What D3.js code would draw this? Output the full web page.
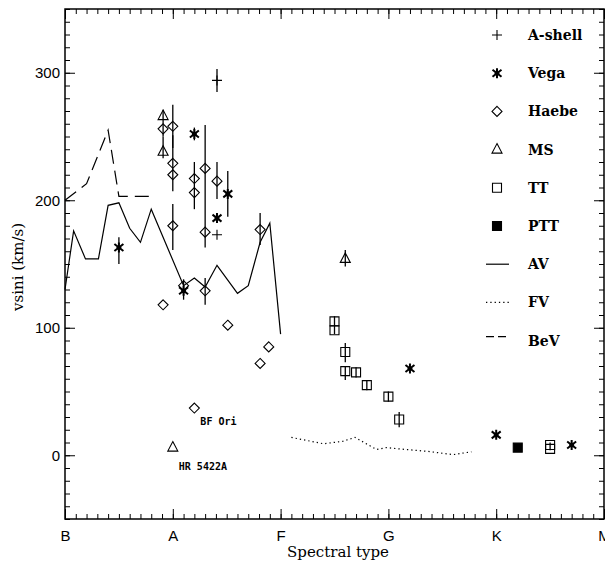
<!DOCTYPE html>
<html>
<head>
<meta charset="utf-8">
<script src="https://cdn.jsdelivr.net/npm/d3@7"></script>
<style>
    body { margin: 0; background: #fff; }
    .tick text { font-family: "Liberation Sans", Arial, sans-serif; font-size: 15px; }
    .legend text { font-family: "DejaVu Serif", serif; font-weight: bold; font-size: 14px; }
    .axisTitle { font-family: "DejaVu Serif", serif; font-size: 15px; }
    .note { font-family: "DejaVu Sans Mono", monospace; font-weight: bold; font-size: 10px; }
</style>
</head>
<body>
<script>
// spectral type: B=0, A=1, F=2, G=3, K=4, M=5
var typeTicks = [0, 1, 2, 3, 4, 5];
var typeLabels = ["B", "A", "F", "G", "K", "M"];
var vTicks = [0, 100, 200, 300];

// points as [spectral type, vsini, error low, error high]
var aShell = [
    [1.41, 294, 285, 303],
    [1.41, 173]
];
var vega = [
    [0.50, 163, 150, 171],
    [1.10, 129, 122, 138],
    [1.20, 252, 247, 257],
    [1.41, 186],
    [1.51, 205, 187, 223],
    [3.20, 68],
    [4.00, 16],
    [4.70, 8]
];
var haebe = [
    [0.91, 256],
    [0.91, 118],
    [1.00, 258, 241, 275],
    [1.00, 229, 207, 251],
    [1.00, 220],
    [1.00, 180, 161, 197],
    [1.10, 133],
    [1.20, 217, 193, 230],
    [1.20, 206],
    [1.20, 37],
    [1.30, 225, 163, 259],
    [1.30, 175],
    [1.30, 129, 118, 139],
    [1.41, 215, 201, 230],
    [1.51, 102],
    [1.81, 177, 165, 190],
    [1.81, 72],
    [1.89, 85]
];
var ms = [
    [0.91, 266, 250, 271],
    [0.91, 238, 233, 250],
    [1.00, 6],
    [2.60, 154, 148, 161]
];
var tt = [
    [2.50, 105, 95, 109],
    [2.50, 98],
    [2.60, 81, 73, 88],
    [2.60, 66, 59, 70],
    [2.70, 65, 61, 69],
    [2.80, 55, 51, 59],
    [3.00, 46, 42, 50],
    [3.10, 28, 22, 34],
    [4.50, 8, 4, 10],
    [4.50, 5]
];
var ptt = [
    [4.20, 6]
];

// mean curves
var av = [[0, 130], [0.08, 176], [0.19, 154], [0.31, 154], [0.40, 196], [0.50, 198],
    [0.60, 178], [0.70, 167], [0.80, 193], [1.10, 133], [1.20, 139], [1.30, 132],
    [1.41, 149], [1.60, 127], [1.70, 133], [1.81, 167], [1.90, 182], [2.00, 95]];
var fv = [[2.10, 14], [2.40, 9], [2.58, 11], [2.69, 14], [2.89, 4.5], [2.98, 6],
    [3.10, 5], [3.37, 3], [3.60, 0.5], [3.77, 2.7]];
var bev = [[0, 200], [0.20, 213], [0.40, 255], [0.50, 203], [0.82, 203]];

var legendNames = ["A-shell", "Vega", "Haebe", "MS", "TT", "PTT", "AV", "FV", "BeV"];

window.onload = function() {
    var w = 605, h = 563;
    var left = 65, right = 604, top = 9, bottom = 519;

    var svg = d3.select("body")
        .append("svg")
        .attr("width", w)
        .attr("height", h);

    var x = d3.scaleLinear().domain([0, 5]).range([left, right]);
    var y = d3.scaleLinear().domain([-50, 350]).range([bottom, top]);

    var minorX = d3.range(0, 50).map(function(i) { return i / 10; });
    var minorY = d3.range(-50, 351, 10);

    // ticks on all four sides, pointing inward
    function addAxis(gen, tx, ty) {
        var g = svg.append("g")
            .attr("transform", "translate(" + tx + "," + ty + ")")
            .call(gen);
        g.select(".domain").remove();
        g.selectAll("line").attr("stroke", "#000");
        return g;
    }
    addAxis(d3.axisBottom(x).tickValues(minorX).tickSize(-5).tickFormat(""), 0, bottom);
    addAxis(d3.axisBottom(x).tickValues(typeTicks).tickSize(-10).tickPadding(11)
        .tickFormat(function(d, i) { return typeLabels[i]; }), 0, bottom);
    addAxis(d3.axisTop(x).tickValues(minorX).tickSize(-5).tickFormat(""), 0, top);
    addAxis(d3.axisTop(x).tickValues(typeTicks).tickSize(-10).tickFormat(""), 0, top);
    addAxis(d3.axisLeft(y).tickValues(minorY).tickSize(-5).tickFormat(""), left, 0);
    addAxis(d3.axisLeft(y).tickValues(vTicks).tickSize(-10).tickPadding(5), left, 0);
    addAxis(d3.axisRight(y).tickValues(minorY).tickSize(-5).tickFormat(""), right, 0);
    addAxis(d3.axisRight(y).tickValues(vTicks).tickSize(-10).tickFormat(""), right, 0);

    svg.selectAll(".tick text").attr("fill", "#000");

    // frame
    svg.append("rect")
        .attr("x", left).attr("y", top)
        .attr("width", right - left).attr("height", bottom - top)
        .attr("fill", "none").attr("stroke", "#000").attr("stroke-width", 1.5);

    svg.append("text")
        .attr("class", "axisTitle")
        .attr("x", 338).attr("y", 557)
        .attr("text-anchor", "middle")
        .text("Spectral type");
    svg.append("text")
        .attr("class", "axisTitle")
        .attr("transform", "translate(23,267) rotate(-90)")
        .attr("text-anchor", "middle")
        .text("vsini (km/s)");

    // curves
    var line = d3.line()
        .x(function(d) { return x(d[0]); })
        .y(function(d) { return y(d[1]); });
    var curveStyle = [
        { data: av, dash: null },
        { data: fv, dash: "1.3,3" },
        { data: bev, dash: "14,7" }
    ];
    curveStyle.forEach(function(c) {
        svg.append("path")
            .datum(c.data)
            .attr("d", line)
            .attr("fill", "none")
            .attr("stroke", "#000")
            .attr("stroke-width", 1.2)
            .attr("stroke-dasharray", c.dash);
    });

    // marker shapes around (0,0)
    function marker(type) {
        var s = 5;
        if (type == "plus") return "M" + (-s) + ",0H" + s + "M0," + (-s) + "V" + s;
        if (type == "star") return "M0," + (-s) + "V" + s +
            "M-4.5,-3.5L4.5,3.5M-4.5,3.5L4.5,-3.5M-2.5,0H2.5";
        if (type == "diamond") return "M0,-5L5,0L0,5L-5,0Z";
        if (type == "triangle") return "M0,-6L5,3.5L-5,3.5Z";
        return "M-4.5,-4.5H4.5V4.5H-4.5Z"; // square
    }

    var series = [
        { data: aShell, type: "plus", fill: "none" },
        { data: vega, type: "star", fill: "none", width: 2 },
        { data: haebe, type: "diamond", fill: "none" },
        { data: ms, type: "triangle", fill: "none" },
        { data: tt, type: "square", fill: "none" },
        { data: ptt, type: "square", fill: "#000" }
    ];

    // error bars first
    series.forEach(function(s) {
        svg.selectAll(null)
            .data(s.data.filter(function(d) { return d.length > 2; }))
            .enter()
            .append("line")
            .attr("x1", function(d) { return x(d[0]); })
            .attr("x2", function(d) { return x(d[0]); })
            .attr("y1", function(d) { return y(d[2]); })
            .attr("y2", function(d) { return y(d[3]); })
            .attr("stroke", "#000")
            .attr("stroke-width", 1.3);
    });

    series.forEach(function(s) {
        svg.selectAll(null)
            .data(s.data)
            .enter()
            .append("path")
            .attr("d", marker(s.type))
            .attr("transform", function(d) {
                return "translate(" + x(d[0]) + "," + y(d[1]) + ")";
            })
            .attr("fill", s.fill)
            .attr("stroke", "#000")
            .attr("stroke-width", s.width || 1.1);
    });

    // star names
    svg.append("text").attr("class", "note")
        .attr("x", x(1.20) + 6).attr("y", y(37) + 17)
        .text("BF Ori");
    svg.append("text").attr("class", "note")
        .attr("x", x(1.00) + 6).attr("y", y(6) + 22)
        .text("HR 5422A");

    // legend
    var legend = svg.append("g").attr("class", "legend");
    var rows = legend.selectAll("g")
        .data(legendNames)
        .enter()
        .append("g")
        .attr("transform", function(d, i) { return "translate(497," + (35 + i * 38.2) + ")"; });
    rows.append("text")
        .attr("x", 31)
        .attr("dy", "0.35em")
        .text(function(d) { return d; });
    rows.each(function(d, i) {
        var g = d3.select(this);
        if (i < series.length) {
            g.append("path")
                .attr("d", marker(series[i].type))
                .attr("fill", series[i].fill)
                .attr("stroke", "#000")
                .attr("stroke-width", series[i].width || 1.1);
        } else {
            var c = curveStyle[i - series.length];
            g.append("line")
                .attr("x1", -11).attr("x2", 12)
                .attr("y1", i == 8 ? -4 : 0).attr("y2", i == 8 ? -4 : 0)
                .attr("stroke", "#000")
                .attr("stroke-width", 1.2)
                .attr("stroke-dasharray", c.dash == "14,7" ? "8,4" : c.dash);
        }
    });
};
</script>
</body>
</html>
